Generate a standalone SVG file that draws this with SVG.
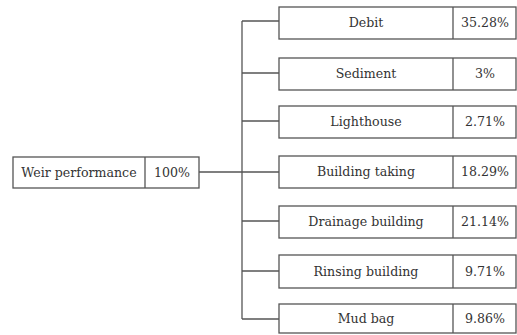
<svg xmlns="http://www.w3.org/2000/svg" width="517" height="335" viewBox="0 0 517 335">
<style>
.b{fill:#fff;stroke:#555;stroke-width:1.3}
.d{stroke:#555;stroke-width:1.3}
.c line{stroke:#555;stroke-width:1.3}
text{font-family:"DejaVu Serif","Liberation Serif",serif;font-size:12.6px;fill:#333;text-anchor:middle;dominant-baseline:central}
</style>
<rect width="517" height="335" fill="#fff"/>
<g id="connectors" class="c">
<line x1="199" y1="172" x2="242" y2="172"/>
<line x1="242" y1="21" x2="242" y2="319"/>
<line x1="242" y1="21" x2="279" y2="21"/>
<line x1="242" y1="73" x2="279" y2="73"/>
<line x1="242" y1="121" x2="279" y2="121"/>
<line x1="242" y1="172" x2="279" y2="172"/>
<line x1="242" y1="221" x2="279" y2="221"/>
<line x1="242" y1="271" x2="279" y2="271"/>
<line x1="242" y1="319" x2="279" y2="319"/>
</g>
<g id="root"><rect class="b" x="13" y="157" width="186" height="31"/><line class="d" x1="145" y1="157" x2="145" y2="188"/><text x="79" y="172">Weir performance</text><text x="172" y="172">100%</text></g>
<g id="n1"><rect class="b" x="279" y="7" width="237" height="32"/><line class="d" x1="453" y1="7" x2="453" y2="39"/><text x="366" y="22">Debit</text><text x="485" y="22">35.28%</text></g>
<g id="n2"><rect class="b" x="279" y="58" width="237" height="32"/><line class="d" x1="453" y1="58" x2="453" y2="90"/><text x="366" y="73.5">Sediment</text><text x="485" y="73.5">3%</text></g>
<g id="n3"><rect class="b" x="279" y="106" width="237" height="32"/><line class="d" x1="453" y1="106" x2="453" y2="138"/><text x="366" y="121.5">Lighthouse</text><text x="485" y="121.5">2.71%</text></g>
<g id="n4"><rect class="b" x="279" y="156" width="237" height="32"/><line class="d" x1="453" y1="156" x2="453" y2="188"/><text x="366" y="171.5">Building taking</text><text x="485" y="171.5">18.29%</text></g>
<g id="n5"><rect class="b" x="279" y="206" width="237" height="32"/><line class="d" x1="453" y1="206" x2="453" y2="238"/><text x="366" y="221.5">Drainage building</text><text x="485" y="221.5">21.14%</text></g>
<g id="n6"><rect class="b" x="279" y="255" width="237" height="33"/><line class="d" x1="453" y1="255" x2="453" y2="288"/><text x="366" y="271">Rinsing building</text><text x="485" y="271">9.71%</text></g>
<g id="n7"><rect class="b" x="279" y="304" width="237" height="29"/><line class="d" x1="453" y1="304" x2="453" y2="333"/><text x="366" y="318.5">Mud bag</text><text x="485" y="318.5">9.86%</text></g>
</svg>
